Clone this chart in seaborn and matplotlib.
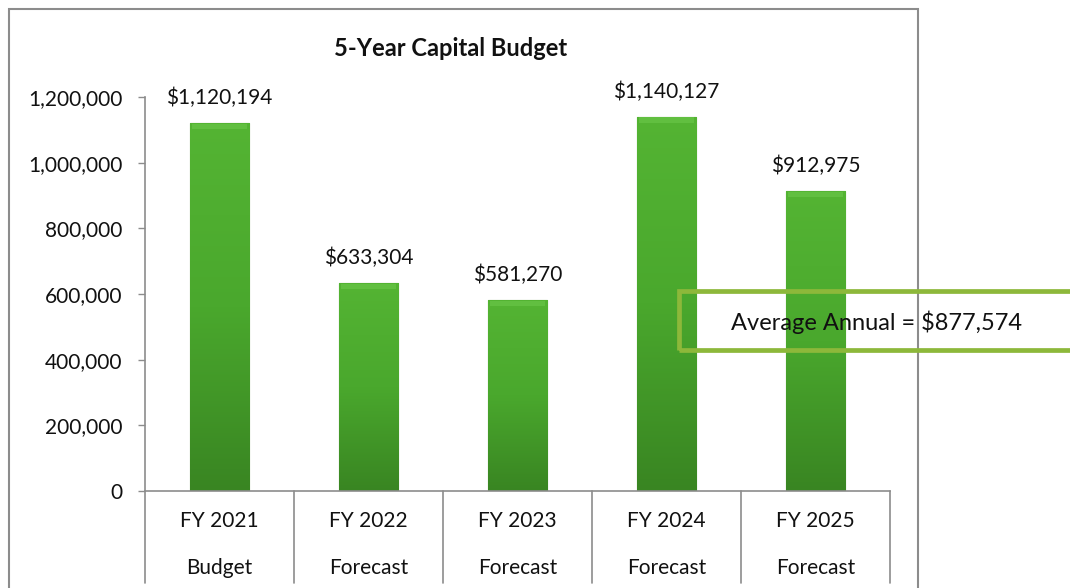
import numpy as np
import pandas as pd
import matplotlib.pyplot as plt
import matplotlib.transforms as mtransforms
from matplotlib.patches import Rectangle
from matplotlib.colors import LinearSegmentedColormap
import seaborn as sns

categories = ["FY 2021", "FY 2022", "FY 2023", "FY 2024", "FY 2025"]
sublabels = ["Budget", "Forecast", "Forecast", "Forecast", "Forecast"]
values = [1120194, 633304, 581270, 1140127, 912975]
average_annual = 877574
yticks = [0, 200000, 400000, 600000, 800000, 1000000, 1200000]

sns.set_theme(style="white")
plt.rcParams['font.family'] = ['Lato', 'DejaVu Sans']

W, H = 1070, 588
FS = 15
fig = plt.figure(figsize=(W / 100, H / 100), dpi=100)
ax = fig.add_axes([145 / W, 1 - 491 / H, 745 / W, 394 / H])

df = pd.DataFrame({"cat": categories, "value": values})
sns.barplot(data=df, x="cat", y="value", color="#4CA62D", width=0.4,
            saturation=1, ax=ax, edgecolor="#3B7F22", linewidth=0.8)

# gradient fill on each bar (darker at bottom, lighter top)
cmap = LinearSegmentedColormap.from_list("g", ["#398522", "#4AA82D", "#54B433"])
grad = np.linspace(0, 1, 256).reshape(-1, 1)
for p in ax.patches:
    x0, w, h = p.get_x(), p.get_width(), p.get_height()
    im = ax.imshow(grad, cmap=cmap, extent=[x0, x0 + w, 0, h], origin="lower",
                   aspect="auto", zorder=p.get_zorder() + 0.1)
    im.set_clip_path(p)
    # bevel highlight on top
    ax.add_patch(Rectangle((x0 + w * 0.04, h - 18000), w * 0.92, 16000,
                           facecolor="#6CC84A", edgecolor="none", alpha=0.6,
                           zorder=p.get_zorder() + 0.2))

ax.set_xlim(-0.5, 4.5)
ax.set_ylim(0, 1200000)
ax.set_yticks(yticks)
ax.set_yticklabels([f"{v:,.0f}" for v in yticks], fontsize=FS, color="#111111")
ax.tick_params(axis="y", left=True, length=5, width=1, color="#8c8c8c", pad=11)
ax.set_xticks([])
ax.set_xlabel("")
ax.set_ylabel("")
for s in ["top", "right"]:
    ax.spines[s].set_visible(False)
for s in ["left", "bottom"]:
    ax.spines[s].set_color("#8c8c8c")
    ax.spines[s].set_linewidth(1.2)

# value labels above bars
for i, v in enumerate(values):
    ax.annotate(f"${v:,.0f}", (i, v), xytext=(0, 18), textcoords="offset points",
                ha="center", va="center", fontsize=FS, color="#111111")

# two-row category axis with divider lines
trans = mtransforms.blended_transform_factory(ax.transData, ax.transAxes)
for i, (c, s) in enumerate(zip(categories, sublabels)):
    ax.text(i, -0.076, c, transform=trans, ha="center", va="center",
            fontsize=FS, color="#111111")
    ax.text(i, -0.195, s, transform=trans, ha="center", va="center",
            fontsize=FS, color="#111111")
for xb in np.arange(-0.5, len(categories), 1.0):
    ax.plot([xb, xb], [0, -0.234], transform=trans, color="#8c8c8c",
            lw=1.2, clip_on=False)

# title
fig.text(451 / W, 1 - 48 / H, "5-Year Capital Budget", ha="center", va="center",
         fontsize=17, fontweight="bold", color="#111111")

# chart border
fig.patches.append(Rectangle((9 / W, -0.05), (918 - 9) / W, 1.05 - 9 / H,
                             transform=fig.transFigure, fill=False,
                             edgecolor="#8c8c8c", lw=1.5))

# average annotation box
fig.patches.append(Rectangle((679 / W, 1 - 350 / H), 420 / W, 59 / H,
                             transform=fig.transFigure, fill=False,
                             edgecolor="#8DB83A", lw=3.4, zorder=5))
fig.text(877 / W, 1 - 322 / H, f"Average Annual = ${average_annual:,.0f}",
         ha="center", va="center", fontsize=17, color="#111111", zorder=6)

fig.savefig("out.png", dpi=100)
